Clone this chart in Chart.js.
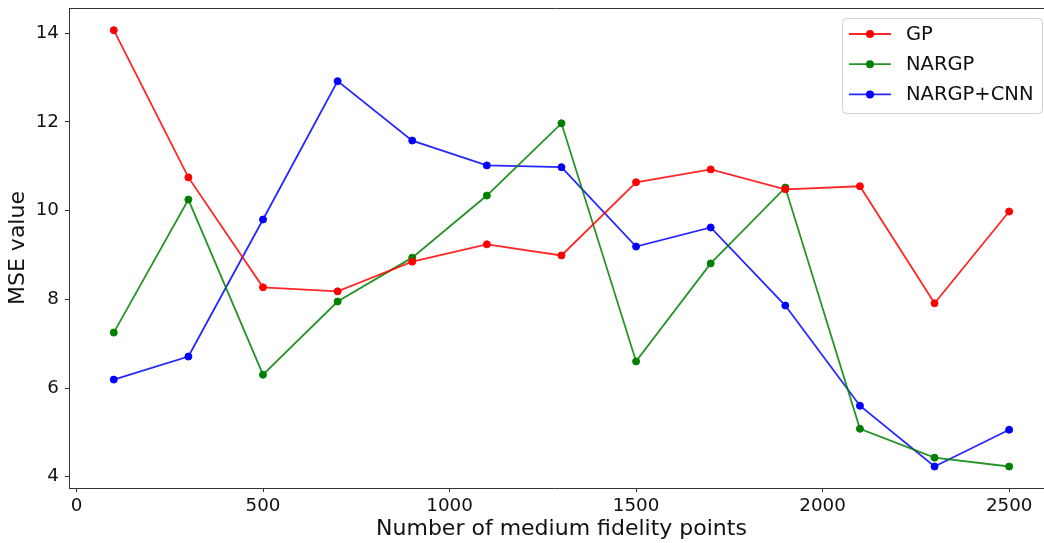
<!DOCTYPE html>
<html>
<head>
<meta charset="utf-8">
<script src="https://cdn.jsdelivr.net/npm/chart.js@4.4.1/dist/chart.umd.min.js"></script>
<style>
  html, body { margin: 0; padding: 0; background: #fff; }
  canvas { display: block; }
</style>
</head>
<body>
<canvas id="mseChart" width="1044" height="543"></canvas>
<script>
const mediumPoints = [100, 300, 500, 700, 900, 1100, 1300, 1500, 1700, 1900, 2100, 2300, 2500];
const gpMse = [14.07, 10.75, 8.27, 8.18, 8.85, 9.24, 8.99, 10.64, 10.93, 10.48, 10.55, 7.91, 9.98];
const nargpMse = [7.25, 10.25, 6.30, 7.95, 8.94, 10.34, 11.97, 6.60, 8.81, 10.52, 5.08, 4.43, 4.23];
const nargpCnnMse = [6.19, 6.71, 9.80, 12.92, 11.58, 11.02, 10.98, 9.19, 9.62, 7.86, 5.60, 4.23, 5.06];
const seriesNames = ["GP", "NARGP", "NARGP+CNN"];
const seriesColors = ["#ff0000", "#008000", "#0000ff"];
const lineColors = ["rgba(255,0,0,0.85)", "rgba(0,128,0,0.85)", "rgba(0,0,255,0.85)"];
const xTicks = [0, 500, 1000, 1500, 2000, 2500];
const yTicks = [4, 6, 8, 10, 12, 14];
const xTitle = "Number of medium fidelity points";

const FONT = "'DejaVu Sans', sans-serif";
const TEXT = "#111";
const AXIS = "#333";
// full x extent of the axes box (its right end is cut off by the canvas)
const X_MIN = -20, X_FULL_MAX = 2620, X_VISIBLE_MAX = 2580;

function toPoints(values) {
    return mediumPoints.map((x, i) => ({ x: x, y: values[i] }));
}

function makeSeries(values, idx) {
    return {
        label: seriesNames[idx],
        data: toPoints(values),
        borderColor: lineColors[idx],
        backgroundColor: seriesColors[idx],
        pointBackgroundColor: seriesColors[idx],
        pointBorderColor: seriesColors[idx],
        borderWidth: 1.8,
        pointRadius: 3.5,
        pointBorderWidth: 1,
        tension: 0
    };
}

function zeroPadding(scale) {
    scale.paddingLeft = 0;
    scale.paddingTop = 0;
    scale.paddingBottom = 0;
    scale.paddingRight = 0;
}

// spines running off the right edge, x title, matplotlib-style legend
const framePlugin = {
    id: "frame",
    afterDatasetsDraw(chart) {
        const ctx = chart.ctx;
        const area = chart.chartArea;
        const xs = chart.scales.x;
        ctx.save();
        ctx.strokeStyle = AXIS;
        ctx.lineWidth = 1;
        ctx.beginPath();
        ctx.moveTo(area.left, area.top + 0.5);
        ctx.lineTo(chart.width, area.top + 0.5);
        ctx.moveTo(area.right - 1, area.bottom + 0.5);
        ctx.lineTo(chart.width, area.bottom + 0.5);
        ctx.stroke();

        // axis title centred on the whole axes box
        const cx = (xs.getPixelForValue(X_MIN) + xs.getPixelForValue(X_FULL_MAX)) / 2;
        ctx.font = "22px " + FONT;
        ctx.fillStyle = TEXT;
        ctx.textAlign = "center";
        ctx.textBaseline = "middle";
        ctx.fillText(xTitle, cx, 529);

        // legend box
        const bx = 842.5, by = 18.5, bw = 200, bh = 95, r = 4;
        ctx.fillStyle = "rgba(255,255,255,0.8)";
        ctx.strokeStyle = "#d0d0d0";
        ctx.beginPath();
        ctx.roundRect(bx, by, bw, bh, r);
        ctx.fill();
        ctx.stroke();

        ctx.font = "19.5px " + FONT;
        ctx.textBaseline = "middle";
        ctx.textAlign = "left";
        chart.data.datasets.forEach((ds, i) => {
            const y = 34 + i * 30.2;
            ctx.strokeStyle = ds.borderColor;
            ctx.lineWidth = 1.8;
            ctx.beginPath();
            ctx.moveTo(849, y);
            ctx.lineTo(891, y);
            ctx.stroke();
            ctx.fillStyle = ds.backgroundColor;
            ctx.beginPath();
            ctx.arc(870, y, 4, 0, Math.PI * 2);
            ctx.fill();
            ctx.fillStyle = TEXT;
            ctx.fillText(ds.label, 906, y + 1);
        });
        ctx.restore();
    }
};

new Chart(document.getElementById("mseChart"), {
    type: "line",
    data: {
        datasets: [
            makeSeries(gpMse, 0),
            makeSeries(nargpMse, 1),
            makeSeries(nargpCnnMse, 2)
        ]
    },
    options: {
        responsive: false,
        animation: false,
        layout: { padding: { left: 0, right: 0, top: 8, bottom: 0 } },
        plugins: {
            legend: { display: false },
            tooltip: { enabled: false }
        },
        scales: {
            x: {
                type: "linear",
                min: X_MIN,
                max: X_VISIBLE_MAX,
                afterBuildTicks: (scale) => { scale.ticks = xTicks.map(v => ({ value: v })); },
                afterFit: (scale) => { scale.height = 55; zeroPadding(scale); },
                grid: { drawOnChartArea: false, drawTicks: true, tickLength: 4, color: AXIS },
                border: { display: true, color: AXIS, width: 1 },
                ticks: {
                    color: TEXT,
                    font: { family: FONT, size: 18.3 },
                    padding: 3,
                    maxRotation: 0,
                    callback: (v) => String(v)
                }
            },
            y: {
                type: "linear",
                min: 3.745,
                max: 14.57,
                afterBuildTicks: (scale) => { scale.ticks = yTicks.map(v => ({ value: v })); },
                afterFit: (scale) => { scale.width = 69; zeroPadding(scale); },
                grid: { drawOnChartArea: false, drawTicks: true, tickLength: 4, color: AXIS },
                border: { display: true, color: AXIS, width: 1 },
                ticks: {
                    color: TEXT,
                    font: { family: FONT, size: 18.3 },
                    padding: 6,
                    callback: (v) => String(v)
                },
                title: {
                    display: true,
                    text: "MSE value",
                    color: TEXT,
                    font: { family: FONT, size: 22 },
                    padding: { top: 5, bottom: 0 }
                }
            }
        }
    },
    plugins: [framePlugin]
});
</script>
</body>
</html>
